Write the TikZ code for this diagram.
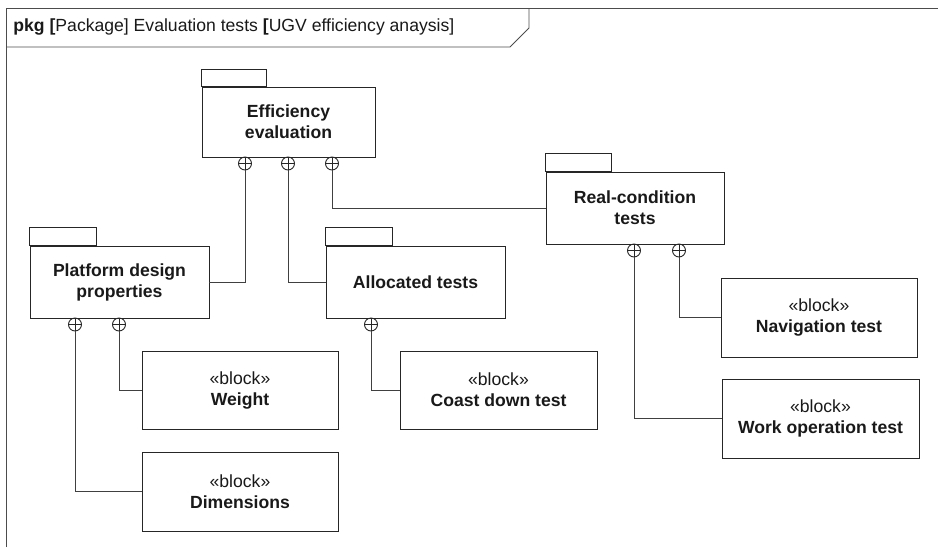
\documentclass[tikz,border=0pt]{standalone}
\usepackage{fontspec}
\setmainfont{Liberation Sans}
\begin{document}
\begin{tikzpicture}[x=1pt,y=-1pt,line width=0.9pt,
  txt/.style={font=\fontsize{17.6}{21}\selectfont, text=black!90},
  pkgbox/.style={draw=black!85, txt, font=\fontsize{17.6}{21}\selectfont\bfseries, align=center, inner sep=0pt},
  blockbox/.style={draw=black!85, txt, align=center, inner sep=0pt, minimum width=196pt, minimum height=78pt},
  ownc/.style={draw=black!85, circle, minimum size=13pt, inner sep=0pt,
    path picture={\draw[black!85,line width=0.8pt] (path picture bounding box.north) -- (path picture bounding box.south)
      (path picture bounding box.west) -- (path picture bounding box.east);}},
  conn/.style={draw=black!75, line width=0.9pt},
  tab/.style={draw=black!85}]
\useasboundingbox (0,0) rectangle (938,547);
% frame
\draw[black!70] (6,547) -- (6,8) -- (938,8);
\draw[black!70] (6,47) -- (510,47) -- (529,28) -- (529,8);
\node[txt, anchor=west, inner sep=0pt] (title) at (13,27) {{\bfseries pkg [}Package] Evaluation tests {\bfseries [}UGV efficiency anaysis]};
% packages
\node[pkgbox, minimum width=173pt, minimum height=70pt] (eff) at (288.5,122) {Efficiency\\evaluation};
\draw[tab] (eff.north west) rectangle ++(65,-17);
\node[pkgbox, minimum width=179pt, minimum height=72pt] (plat) at (119.5,282) {Platform design\\properties};
\draw[tab] (plat.north west) rectangle ++(67,-18);
\node[pkgbox, minimum width=179pt, minimum height=72pt] (alloc) at (415.5,282) {Allocated tests};
\draw[tab] (alloc.north west) rectangle ++(67,-18);
\node[pkgbox, minimum width=178pt, minimum height=72pt] (real) at (635,208) {Real-condition\\tests};
\draw[tab] (real.north west) rectangle ++(66,-18);
% blocks
\node[blockbox] (weight) at (240,390) {«block»\\\textbf{Weight}};
\node[blockbox, minimum height=79pt] (dims) at (240,491.5) {«block»\\\textbf{Dimensions}};
\node[blockbox, minimum width=197pt] (coast) at (498.5,390) {«block»\\\textbf{Coast down test}};
\node[blockbox, minimum height=79pt] (nav) at (819,317.5) {«block»\\\textbf{Navigation test}};
\node[blockbox, minimum width=197pt, minimum height=79pt] (work) at (820.5,418.5) {«block»\\\textbf{Work operation test}};
% ownership circles
\node[ownc] (e1) at (245,163.5) {};
\node[ownc] (e2) at (288,163.5) {};
\node[ownc] (e3) at (332,163.5) {};
\node[ownc] (p1) at (75,324.5) {};
\node[ownc] (p2) at (119,324.5) {};
\node[ownc] (a1) at (371,324.5) {};
\node[ownc] (r1) at (634,250.5) {};
\node[ownc] (r2) at (679,250.5) {};
% connectors
\draw[conn] (e1.south) |- (plat.east);
\draw[conn] (e2.south) |- (alloc.west);
\draw[conn] (e3.south) |- (real.west);
\draw[conn] (p2.south) |- (weight.west);
\draw[conn] (p1.south) |- (dims.west);
\draw[conn] (a1.south) |- (coast.west);
\draw[conn] (r2.south) |- (nav.west);
\draw[conn] (r1.south) |- (work.west);
\end{tikzpicture}
\end{document}
